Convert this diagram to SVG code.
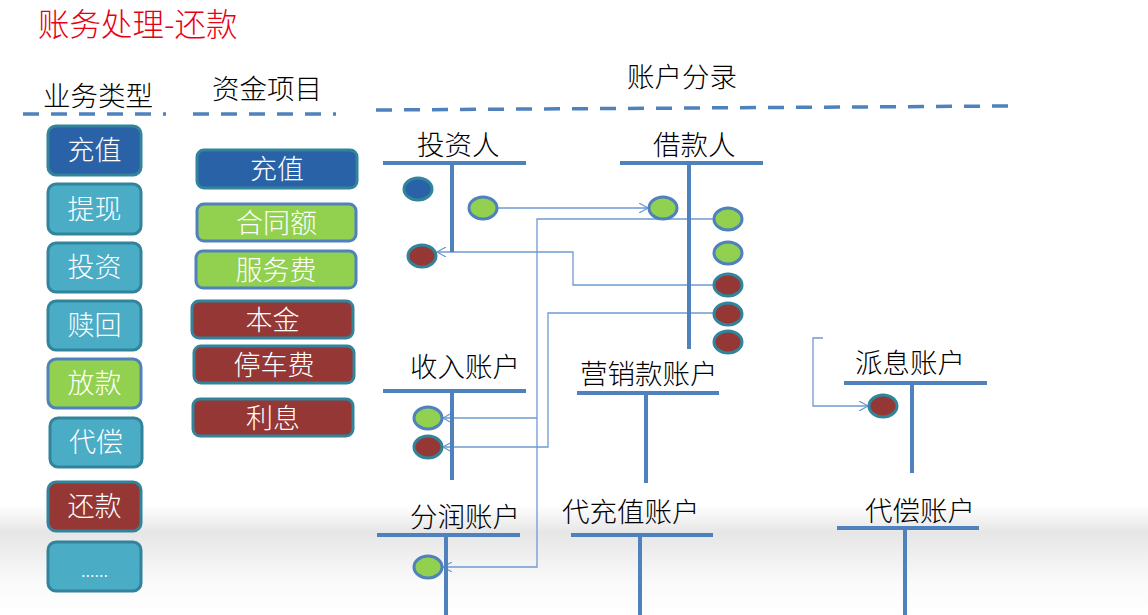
<svg xmlns="http://www.w3.org/2000/svg" width="1148" height="615" viewBox="0 0 1148 615">
<defs>
<linearGradient id="band" x1="0" y1="0" x2="0" y2="1">
<stop offset="0" stop-color="#ffffff"/>
<stop offset="0.13" stop-color="#f2f2f2"/>
<stop offset="0.25" stop-color="#e6e6e6"/>
<stop offset="0.7" stop-color="#fafafa"/>
<stop offset="1" stop-color="#ffffff"/>
</linearGradient>
<marker id="arr" viewBox="0 0 10 10" refX="9" refY="5" markerWidth="10" markerHeight="10" markerUnits="userSpaceOnUse" orient="auto">
<path d="M0,0 L9,5 L0,10" fill="none" stroke="#6E9BD1" stroke-width="1.2"/>
</marker>
<style>
text{font-family:"Noto Sans CJK SC","Liberation Sans",sans-serif;font-weight:300}
.hd{font-size:27.5px;fill:#000}
.bt{font-size:27px;fill:#fff;text-anchor:middle}
.dash{stroke:#4F81BD;stroke-width:3.5;stroke-dasharray:16 12;fill:none}
.acc{stroke:#4F81BD;stroke-width:4;fill:none}
.db{fill:#2A62A8;stroke:#31849B;stroke-width:3}
.lb{fill:#4BACC6;stroke:#31849B;stroke-width:3}
.gr{fill:#92D050;stroke:#4F81BD;stroke-width:3}
.rd{fill:#953735;stroke:#31849B;stroke-width:3}
.cn{stroke:#6E9BD1;stroke-width:1.3;fill:none}
</style>
</defs>
<rect x="0" y="0" width="1148" height="615" fill="#ffffff"/>
<rect x="0" y="505" width="1148" height="110" fill="url(#band)"/>

<text x="38" y="36" style="font-size:31.5px;fill:#E60012">账务处理-还款</text>
<text x="43" y="106" class="hd">业务类型</text>
<text x="212" y="99" class="hd">资金项目</text>
<text x="627" y="87" class="hd">账户分录</text>
<line x1="23" y1="114" x2="166" y2="114" class="dash"/>
<line x1="193" y1="114" x2="336" y2="114" class="dash"/>
<line x1="376" y1="110" x2="1008" y2="106" class="dash"/>

<g id="biz-types">
<g id="b-chongzhi"><rect x="48" y="126" width="93" height="49" rx="8" class="db"/><text x="94.5" y="160" class="bt">充值</text></g>
<g id="b-tixian"><rect x="48" y="184" width="93" height="50" rx="8" class="lb"/><text x="94.5" y="219" class="bt">提现</text></g>
<g id="b-touzi"><rect x="48" y="243" width="93" height="49" rx="8" class="lb"/><text x="94.5" y="277" class="bt">投资</text></g>
<g id="b-shuhui"><rect x="48" y="301" width="93" height="49" rx="8" class="lb"/><text x="94.5" y="335" class="bt">赎回</text></g>
<g id="b-fangkuan"><rect x="48" y="359" width="93" height="49" rx="8" class="gr"/><text x="94.5" y="393" class="bt">放款</text></g>
<g id="b-daichang"><rect x="50" y="418" width="92" height="49" rx="8" class="lb"/><text x="96" y="452" class="bt">代偿</text></g>
<g id="b-huankuan"><rect x="48" y="482" width="93" height="49" rx="8" class="rd"/><text x="94.5" y="516" class="bt">还款</text></g>
<g id="b-more"><rect x="48" y="542" width="93" height="49" rx="8" class="lb"/><text x="94.5" y="577" class="bt" style="font-size:18px">......</text></g>
</g>

<g id="fund-items">
<g id="f-chongzhi"><rect x="197" y="150" width="160" height="38" rx="7" class="db"/><text x="277" y="179" class="bt">充值</text></g>
<g id="f-hetonge"><rect x="197" y="204" width="159" height="37" rx="7" class="gr"/><text x="276.5" y="233" class="bt">合同额</text></g>
<g id="f-fuwufei"><rect x="196" y="251" width="160" height="37" rx="7" class="gr"/><text x="276" y="280" class="bt">服务费</text></g>
<g id="f-benjin"><rect x="192" y="301" width="161" height="37" rx="7" class="rd"/><text x="272.5" y="330" class="bt">本金</text></g>
<g id="f-tingchefei"><rect x="194" y="346" width="160" height="37" rx="7" class="rd"/><text x="274" y="375" class="bt">停车费</text></g>
<g id="f-lixi"><rect x="193" y="399" width="160" height="37" rx="7" class="rd"/><text x="273" y="428" class="bt">利息</text></g>
</g>

<g id="connectors">
<path d="M497,208 H648" class="cn" marker-end="url(#arr)"/>
<path d="M714,219 H537 V567 H443" class="cn" marker-end="url(#arr)"/>
<path d="M537,418 H443" class="cn" marker-end="url(#arr)"/>
<path d="M714,313 H548 V447 H443" class="cn" marker-end="url(#arr)"/>
<path d="M714,285 H573 V252 H437" class="cn" marker-end="url(#arr)"/>
<path d="M823,338 H813 V406 H868" class="cn" marker-end="url(#arr)"/>
</g>

<g id="acc-investor">
<text x="417" y="155" class="hd">投资人</text>
<path d="M383,163 H526 M452,163 V252" class="acc"/>
<ellipse cx="418" cy="189" rx="14" ry="11" class="db"/>
<ellipse cx="483" cy="208" rx="14" ry="11" class="gr"/>
<ellipse cx="422" cy="256" rx="14" ry="11" class="rd"/>
</g>

<g id="acc-borrower">
<text x="653" y="155" class="hd">借款人</text>
<path d="M620,163 H763 M689,163 V349" class="acc"/>
<ellipse cx="663" cy="208" rx="14" ry="11" class="gr"/>
<ellipse cx="728" cy="219" rx="14" ry="11" class="gr"/>
<ellipse cx="728" cy="253" rx="14" ry="11" class="gr"/>
<ellipse cx="728" cy="285" rx="14" ry="11" class="rd"/>
<ellipse cx="728" cy="314" rx="14" ry="11" class="rd"/>
<ellipse cx="728" cy="342" rx="14" ry="11" class="rd"/>
</g>

<g id="acc-income">
<text x="410" y="377" class="hd">收入账户</text>
<path d="M383,391 H526 M452,391 V480" class="acc"/>
<ellipse cx="428" cy="418" rx="14" ry="11" class="gr"/>
<ellipse cx="428" cy="447" rx="14" ry="11" class="rd"/>
</g>

<g id="acc-marketing">
<text x="580" y="384" class="hd">营销款账户</text>
<path d="M577,393 H719 M646,393 V483" class="acc"/>
</g>

<g id="acc-dividend">
<text x="855" y="373" class="hd">派息账户</text>
<path d="M844,383 H987 M912,383 V473" class="acc"/>
<ellipse cx="883" cy="406" rx="14" ry="11" class="rd"/>
</g>

<g id="acc-profit">
<text x="410" y="527" class="hd">分润账户</text>
<path d="M377,535 H520 M446,535 V615" class="acc"/>
<ellipse cx="428" cy="567" rx="14" ry="11" class="gr"/>
</g>

<g id="acc-recharge">
<text x="562" y="522" class="hd">代充值账户</text>
<path d="M571,535 H713 M640,535 V615" class="acc"/>
</g>

<g id="acc-compensate">
<text x="865" y="521" class="hd">代偿账户</text>
<path d="M837,528 H979 M905,528 V615" class="acc"/>
</g>
</svg>
